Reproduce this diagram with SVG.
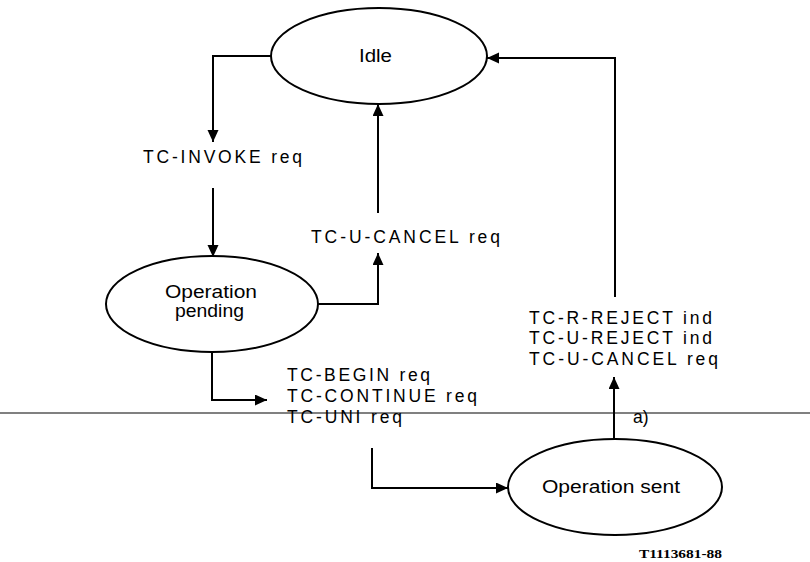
<svg xmlns="http://www.w3.org/2000/svg" width="810" height="562" viewBox="0 0 810 562">
<style>
.node ellipse{fill:#fff;stroke:#000;stroke-width:2}
.t{font-family:"Liberation Sans",Arial,sans-serif;font-size:17.5px;fill:#000}
.conn path{fill:none;stroke:#000;stroke-width:2}
.fig{font-family:"Liberation Serif","Times New Roman",serif;font-size:12px;font-weight:bold;fill:#000}
</style>
<defs>
<marker id="arr" markerUnits="userSpaceOnUse" markerWidth="14" markerHeight="12" refX="12" refY="5.5" orient="auto">
<path d="M0,0 L12,5.5 L0,11 z" fill="#000"/>
</marker>
</defs>
<rect width="810" height="562" fill="#fff"/>
<line x1="0" y1="413" x2="810" y2="413" stroke="#808080" stroke-width="2"/>
<g class="conn">
<path d="M271,56 H213 V142" marker-end="url(#arr)"/>
<path d="M213,188 V257" marker-end="url(#arr)"/>
<path d="M318,304 H378 V253" marker-end="url(#arr)"/>
<path d="M378,213 V104" marker-end="url(#arr)"/>
<path d="M212,352 V400 H267" marker-end="url(#arr)"/>
<path d="M372,448 V488 H508" marker-end="url(#arr)"/>
<path d="M614,439 V377" marker-end="url(#arr)"/>
<path d="M615,297 V58 H487" marker-end="url(#arr)"/>
</g>
<g id="idle" class="node">
<ellipse cx="379" cy="56" rx="108" ry="48"/>
<text class="t" x="359" y="62" textLength="33" lengthAdjust="spacingAndGlyphs">Idle</text>
</g>
<g id="pending" class="node">
<ellipse cx="212" cy="304" rx="106" ry="48"/>
<text class="t" x="165" y="298" textLength="92" lengthAdjust="spacingAndGlyphs">Operation</text>
<text class="t" x="175" y="317" textLength="69" lengthAdjust="spacingAndGlyphs">pending</text>
</g>
<g id="sent" class="node">
<ellipse cx="615" cy="487" rx="107" ry="48"/>
<text class="t" x="542" y="493" textLength="138" lengthAdjust="spacingAndGlyphs">Operation sent</text>
</g>
<g id="labels">
<text class="t" x="143" y="163" textLength="159" lengthAdjust="spacing">TC-INVOKE req</text>
<text class="t" x="311" y="243" textLength="189" lengthAdjust="spacing">TC-U-CANCEL req</text>
<text class="t" x="287" y="381" textLength="143" lengthAdjust="spacing">TC-BEGIN req</text>
<text class="t" x="287" y="402" textLength="190" lengthAdjust="spacing">TC-CONTINUE req</text>
<text class="t" x="287" y="423" textLength="115" lengthAdjust="spacing">TC-UNI req</text>
<text class="t" x="529" y="324" textLength="183" lengthAdjust="spacing">TC-R-REJECT ind</text>
<text class="t" x="529" y="344" textLength="183" lengthAdjust="spacing">TC-U-REJECT ind</text>
<text class="t" x="529" y="365" textLength="189" lengthAdjust="spacing">TC-U-CANCEL req</text>
<text class="t" x="633" y="423">a)</text>
<text class="fig" x="639" y="558" textLength="83" lengthAdjust="spacingAndGlyphs">T1113681-88</text>
</g>
</svg>
